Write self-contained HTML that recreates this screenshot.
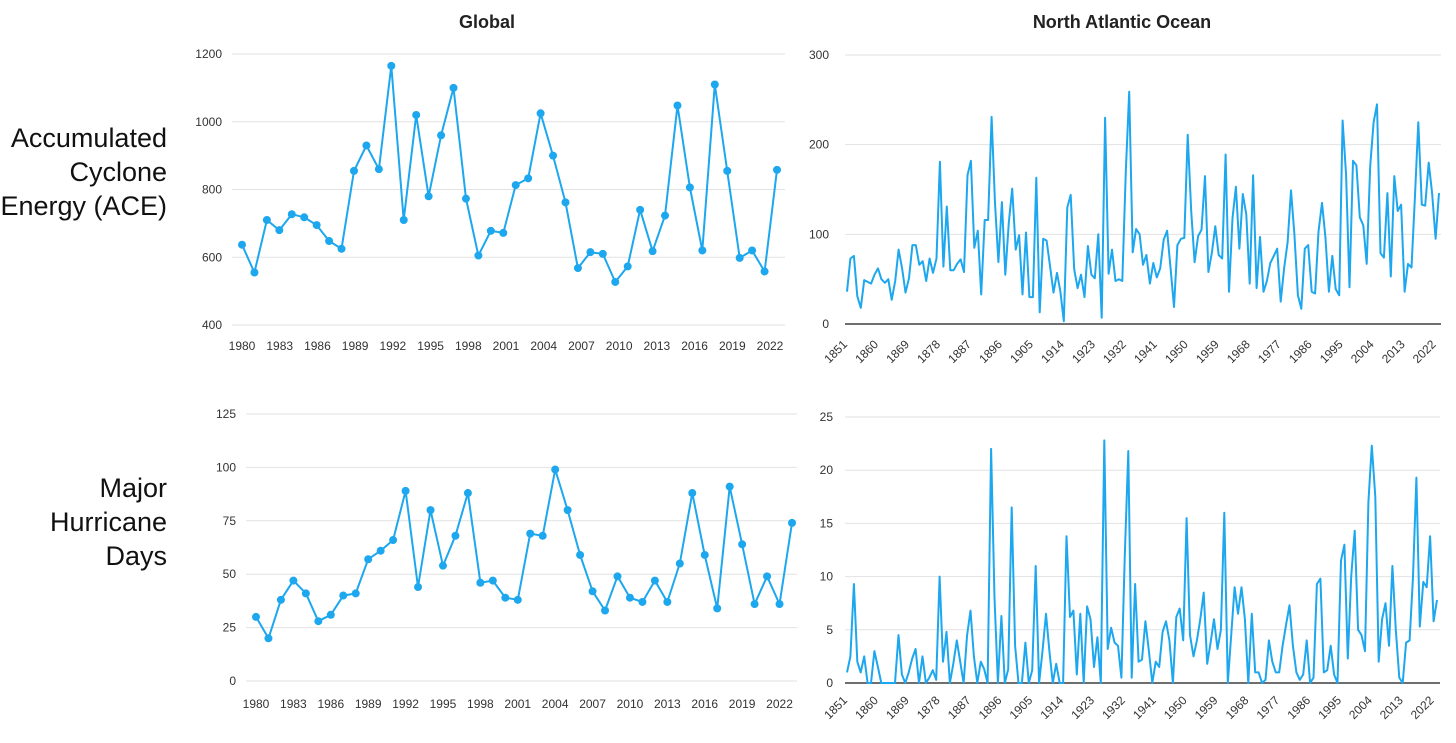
<!DOCTYPE html>
<html><head><meta charset="utf-8"><style>
body{margin:0;background:#fff;}
svg{display:block;font-family:"Liberation Sans",sans-serif;}
</style></head><body>
<svg id="s" width="1456" height="743"></svg>
<script>
const globalYears=[];for(let y=1980;y<=2023;y++)globalYears.push(y);
const globalAce=[637,555,710,680,727,718,695,648,625,855,930,860,1165,710,1020,780,960,1100,773,605,678,672,813,833,1025,900,762,568,615,610,527,573,740,618,723,1048,806,620,1110,855,598,620,558,858];
const globalMhd=[30,20,38,47,41,28,31,40,41,57,61,66,89,44,80,54,68,88,46,47,39,38,69,68,99,80,59,42,33,49,39,37,47,37,55,88,59,34,91,64,36,49,36,74];
const globalTicks=[1980,1983,1986,1989,1992,1995,1998,2001,2004,2007,2010,2013,2016,2019,2022];
const naYears=[];for(let y=1851;y<=2023;y++)naYears.push(y);
const naAce=[36,73,76,31,18,49,47,45,55,62,50,46,50,27,48,83,62,35,51,88,88,66,70,48,73,57,73,181,64,131,60,60,67,72,58,166,182,85,104,33,116,116,231,135,69,136,55,113,151,83,99,33,102,30,30,163,13,95,93,64,35,57,36,3,130,144,61,40,55,30,87,55,51,100,7,230,56,83,48,50,48,170,259,80,106,100,66,77,45,68,52,62,94,104,63,19,88,95,96,211,126,69,98,105,165,58,79,109,77,73,189,36,118,153,84,145,122,45,166,40,97,36,48,68,76,84,25,62,91,149,100,32,17,84,88,36,34,103,135,97,36,76,39,32,227,166,41,182,177,119,110,67,176,225,245,79,74,146,53,165,126,133,36,67,63,141,225,133,132,180,146,95,146];
const naMhd=[1,2.5,9.3,2,1,2.5,0,0,3,1.5,0,0,0,0,0,4.5,0.8,0,1,2.3,3.2,0,2.5,0,0.5,1.2,0.3,10,2,4.8,0,1.8,4,2,0,4.5,6.8,2.5,0,2,1.3,0,22,8,0,6.3,0,1.3,16.5,3.5,0,0,3.8,0,1.2,11,0,3,6.5,3,0,1.8,0,0,13.8,6.2,6.8,0.8,6.5,0,7.2,6,1.5,4.3,0,22.8,3.2,5.2,3.8,3.5,0.5,12,21.8,0.5,9.3,2,2.2,5.8,3,0,2,1.5,4.8,5.8,4,0,6.2,7,4,15.5,4.5,2.5,4,6,8.5,1.8,3.8,6,3.2,5,16,0,4.5,9,6.5,9,6,0,6.5,1,1,0,0.3,4,2,1,1,3.5,5.5,7.3,3.5,1,0.3,0.8,4,0,0.5,9.3,9.8,1,1.2,3.5,0.8,0,11.5,13,2.3,10,14.3,5,4.5,3,17,22.3,17.5,2,6,7.5,3.5,11,5,0.5,0,3.8,4,10,19.3,5.3,9.5,9,13.8,5.8,7.8];
const naTicks=[1851,1860,1869,1878,1887,1896,1905,1914,1923,1932,1941,1950,1959,1968,1977,1986,1995,2004,2013,2022];
const aceTicksG=[400,600,800,1000,1200];
const mhdTicksG=[0,25,50,75,100,125];
const aceTicksN=[0,100,200,300];
const mhdTicksN=[0,5,10,15,20,25];

const NS='http://www.w3.org/2000/svg';
const svg=document.getElementById('s');
function mk(tag,attrs,parent){const e=document.createElementNS(NS,tag);for(const k in attrs)e.setAttribute(k,attrs[k]);(parent||svg).appendChild(e);return e;}
function txt(x,y,s,attrs,parent){const e=mk('text',Object.assign({x:x,y:y},attrs),parent);e.textContent=s;return e;}

let t=txt(487,28,'Global',{'text-anchor':'middle','font-size':18,'font-weight':'bold',fill:'#222'});

t=txt(1122,28,'North Atlantic Ocean',{'text-anchor':'middle','font-size':18,'font-weight':'bold',fill:'#222'});

[['Accumulated',147],['Cyclone',181],['Energy (ACE)',215]].forEach(a=>{const e=txt(167,a[1],a[0],{'text-anchor':'end','font-size':27,fill:'#111'});});
[['Major',497],['Hurricane',531],['Days',565]].forEach(a=>{const e=txt(167,a[1],a[0],{'text-anchor':'end','font-size':27,fill:'#111'});});

function chart(o){
  const g=mk('g',{});
  
  
  const ys=v=>o.y0+(v-o.v0)*(o.y1-o.y0)/(o.v1-o.v0);
  const xs=yr=>o.x0+(yr-o.yr0)*(o.x1-o.x0)/(o.yr1-o.yr0);
  o.yTicks.forEach(v=>{
    const base=o.darkBase&&v===o.v0;
    const l=mk('line',{x1:o.gx0,x2:o.gx1,y1:ys(v),y2:ys(v),stroke:base?'#6e6e6e':'#e2e2e2','stroke-width':base?2:1},g);
    
    
    const e=txt(o.lx,ys(v)+4,String(v),{'text-anchor':'end','font-size':12,fill:'#333'},g);
    
    
  });
  o.xTicks.forEach(yr=>{
    let e;
    if(o.rot){const x=xs(yr)+1,y=o.xly;e=txt(x,y,String(yr),{'text-anchor':'end','font-size':12,fill:'#333',transform:`rotate(-45 ${x} ${y})`},g);}
    else e=txt(xs(yr)+(yr-o.yr0)*o.lstretch,o.xly,String(yr),{'text-anchor':'middle','font-size':12,fill:'#333'},g);
    
    
  });
  const pts=o.years.map((yr,i)=>xs(yr).toFixed(1)+','+ys(o.vals[i]).toFixed(1)).join(' ');
  const pl=mk('polyline',{points:pts,fill:'none',stroke:'#1da7ee','stroke-width':2,'stroke-linejoin':'round'},g);
  
  
  if(o.dots)o.years.forEach((yr,i)=>{
    const c=mk('circle',{cx:xs(yr),cy:ys(o.vals[i]),r:4,fill:'#1da7ee'},g);
    
    
  });
}
chart({name:'global-ace-chart',years:globalYears,vals:globalAce,yr0:1980,yr1:2023,x0:242,x1:777,v0:400,v1:1200,y0:325,y1:54,gx0:232,gx1:785,lx:222,yTicks:aceTicksG,xTicks:globalTicks,xly:350,lstretch:0.13,dots:true});
chart({name:'global-mhd-chart',years:globalYears,vals:globalMhd,yr0:1980,yr1:2023,x0:256,x1:792,v0:0,v1:125,y0:681,y1:414,gx0:246,gx1:797,lx:236,yTicks:mhdTicksG,xTicks:globalTicks,xly:708,lstretch:0,dots:true});
chart({name:'na-ace-chart',years:naYears,vals:naAce,yr0:1851,yr1:2023,x0:847,x1:1439,v0:0,v1:300,y0:324,y1:55,gx0:845,gx1:1441,lx:829,yTicks:aceTicksN,xTicks:naTicks,xly:345,rot:true,darkBase:true});
chart({name:'na-mhd-chart',years:naYears,vals:naMhd,yr0:1851,yr1:2023,x0:847,x1:1437,v0:0,v1:25,y0:683,y1:417,gx0:845,gx1:1440,lx:833,yTicks:mhdTicksN,xTicks:naTicks,xly:701,rot:true,darkBase:true});
</script>
</body></html>
